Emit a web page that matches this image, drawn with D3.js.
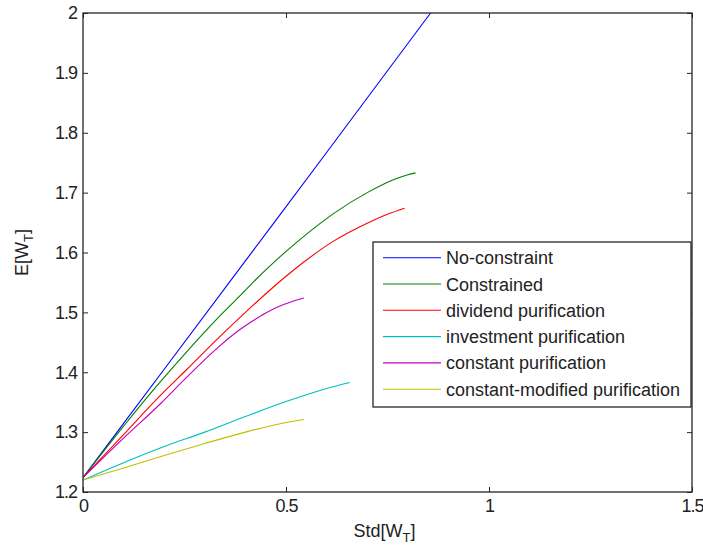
<!DOCTYPE html>
<html>
<head>
<meta charset="utf-8">
<script src="https://cdn.jsdelivr.net/npm/d3@7"></script>
<style>
  html, body { margin: 0; padding: 0; background: #fff; }
  svg { display: block; font-family: "Liberation Sans", Arial, sans-serif; }
</style>
</head>
<body>
<svg id="chart" width="703" height="548"></svg>
<script>
// Mean-variance frontiers: each series is a list of [Std[W_T], E[W_T]] points
const noConstraint = [[0, 1.224], [0.2, 1.405], [0.4, 1.586], [0.6, 1.767], [0.856, 2.0]];
const constrained = [[0, 1.224], [0.1, 1.310], [0.165, 1.364], [0.25, 1.430], [0.33, 1.489],
  [0.387, 1.528], [0.42, 1.551], [0.474, 1.586], [0.535, 1.622], [0.617, 1.665],
  [0.7, 1.700], [0.766, 1.722], [0.8, 1.730], [0.819, 1.733]];
const dividendPurification = [[0, 1.224], [0.1, 1.296], [0.19, 1.361], [0.256, 1.405],
  [0.33, 1.455], [0.4, 1.500], [0.46, 1.537], [0.54, 1.582], [0.617, 1.619],
  [0.7, 1.649], [0.75, 1.664], [0.792, 1.674]];
const investmentPurification = [[0, 1.220], [0.1, 1.249], [0.2, 1.276], [0.3, 1.300],
  [0.4, 1.326], [0.5, 1.351], [0.6, 1.373], [0.657, 1.383]];
const constantPurification = [[0, 1.224], [0.1, 1.290], [0.19, 1.347], [0.25, 1.388],
  [0.33, 1.440], [0.38, 1.468], [0.412, 1.483], [0.45, 1.499], [0.494, 1.513], [0.544, 1.524]];
const constantModifiedPurification = [[0, 1.220], [0.1, 1.240], [0.2, 1.261], [0.3, 1.281],
  [0.4, 1.300], [0.486, 1.314], [0.544, 1.321]];

const seriesNames = ["No-constraint", "Constrained", "dividend purification",
  "investment purification", "constant purification", "constant-modified purification"];
const seriesData = [noConstraint, constrained, dividendPurification,
  investmentPurification, constantPurification, constantModifiedPurification];
const seriesColors = ["#0000ff", "#008000", "#ff0000", "#00bfbf", "#bf00bf", "#bfbf00"];

const xTicks = [0, 0.5, 1, 1.5];
const yTicks = [1.2, 1.3, 1.4, 1.5, 1.6, 1.7, 1.8, 1.9, 2];

const margin = { left: 83, right: 11, top: 13, bottom: 56 };
const W = 703, H = 548;
const pw = W - margin.left - margin.right;
const ph = H - margin.top - margin.bottom;

const svg = d3.select("#chart");
const g = svg.append("g").attr("transform", `translate(${margin.left},${margin.top})`);

const x = d3.scaleLinear().domain([0, 1.5]).range([0, pw]);
const y = d3.scaleLinear().domain([1.2, 2]).range([ph, 0]);

svg.append("defs").append("clipPath").attr("id", "plotClip")
  .append("rect").attr("width", pw).attr("height", ph);

const fmt = d => d3.format("~g")(d);
const axisColor = "#262626";
function styleAxis(sel) {
  sel.select(".domain").remove();
  sel.selectAll(".tick line").attr("stroke", axisColor).attr("stroke-width", 1);
  sel.selectAll(".tick text").attr("fill", "#222").attr("font-size", 18)
     .attr("letter-spacing", -1)
     .attr("font-family", "'Liberation Sans', Arial, sans-serif");
}

g.append("g").attr("transform", `translate(0,${ph})`)
  .call(d3.axisBottom(x).tickValues(xTicks).tickFormat(fmt).tickSizeInner(-5).tickSizeOuter(0).tickPadding(7))
  .call(styleAxis);
g.append("g")
  .call(d3.axisTop(x).tickValues(xTicks).tickFormat("").tickSizeInner(-5).tickSizeOuter(0))
  .call(styleAxis);
g.append("g")
  .call(d3.axisLeft(y).tickValues(yTicks).tickFormat(fmt).tickSizeInner(-5).tickSizeOuter(0).tickPadding(6))
  .call(styleAxis);
g.append("g").attr("transform", `translate(${pw},0)`)
  .call(d3.axisRight(y).tickValues(yTicks).tickFormat("").tickSizeInner(-5).tickSizeOuter(0))
  .call(styleAxis);

// Curves
const line = d3.line().curve(d3.curveMonotoneX).x(d => x(d[0])).y(d => y(d[1]));
const curves = g.append("g").attr("clip-path", "url(#plotClip)");
seriesData.forEach((data, i) => {
  curves.append("path").datum(data)
    .attr("d", line)
    .attr("fill", "none")
    .attr("stroke", seriesColors[i])
    .attr("stroke-width", 1.1)
    .attr("stroke-linejoin", "round");
});

// Plot frame
g.append("rect").attr("width", pw).attr("height", ph)
  .attr("fill", "none").attr("stroke", axisColor).attr("stroke-width", 1.3);

// Legend
const legX = 373 - margin.left, legY = 242 - margin.top, legW = 318, legH = 165, rowH = 26.3;
const leg = g.append("g").attr("transform", `translate(${legX},${legY})`);
leg.append("rect").attr("width", legW).attr("height", legH)
  .attr("fill", "#fff").attr("stroke", axisColor).attr("stroke-width", 1.3);
seriesNames.forEach((name, i) => {
  const cy = 15.7 + i * rowH;
  leg.append("line").attr("x1", 10).attr("x2", 68).attr("y1", cy).attr("y2", cy)
    .attr("stroke", seriesColors[i]).attr("stroke-width", 1.1);
  leg.append("text").attr("x", 73).attr("y", cy + 6.5)
    .attr("font-size", 18).attr("fill", "#222").text(name);
});

// Axis labels with subscripts
const xl = svg.append("text").attr("x", margin.left + pw / 2 - 3).attr("y", 537)
  .attr("text-anchor", "middle").attr("font-size", 18).attr("fill", "#222");
xl.append("tspan").text("Std[W");
xl.append("tspan").attr("font-size", 13).attr("dy", 5).text("T");
xl.append("tspan").attr("dy", -5).text("]");

const yl = svg.append("text")
  .attr("transform", `translate(28,${margin.top + ph / 2}) rotate(-90)`)
  .attr("text-anchor", "middle").attr("font-size", 18).attr("fill", "#222");
yl.append("tspan").text("E[W");
yl.append("tspan").attr("font-size", 13).attr("dy", 5).text("T");
yl.append("tspan").attr("dy", -5).text("]");
</script>
</body>
</html>
